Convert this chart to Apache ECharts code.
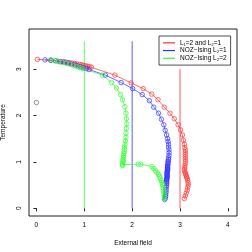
<!DOCTYPE html>
<html><head><meta charset="utf-8">
<script src="https://cdn.jsdelivr.net/npm/echarts@6/dist/echarts.min.js"></script>
<style>html,body{margin:0;padding:0;background:#fff}#c{width:252px;height:252px}</style>
</head><body><div id="c"></div>
<script>
const seriesNames = ['L\u2081=2 and L\u2082=1', 'NOZ\u2212Ising L\u2082=1', 'NOZ\u2212Ising L\u2082=2'];
const xTicks = [0, 1, 2, 3, 4];
const yTicks = [0, 1, 2, 3];
const red = [[0.02,3.21],[0.30,3.19],[0.45,3.17],[0.55,3.16],[0.62,3.15],[0.68,3.14],[0.74,3.13],[0.80,3.12],[0.85,3.11],[0.90,3.10],[0.95,3.09],[0.99,3.08],[1.03,3.07],[1.07,3.06],[1.11,3.05],[1.15,3.04],
 [1.64,2.87],[1.98,2.70],[2.23,2.58],[2.41,2.46],[2.54,2.34],[2.67,2.18],[2.79,2.05],[2.88,1.93],[2.96,1.80],[3.01,1.69],[3.05,1.58],[3.07,1.47],[3.09,1.38],[3.10,1.31],[3.11,1.26],[3.11,1.21],[3.11,1.16],[3.11,1.11],[3.11,1.06],[3.11,1.01],[3.11,0.96],[3.10,0.91],[3.10,0.87],[3.09,0.83],[3.10,0.79],[3.11,0.76],[3.12,0.73],[3.13,0.70],[3.14,0.67],[3.15,0.64],[3.16,0.60],[3.17,0.55],[3.17,0.50],[3.16,0.45],[3.15,0.39],[3.13,0.33],[3.11,0.27],[3.09,0.21]];
const blue = [[0.18,3.20],[0.30,3.19],[0.40,3.18],[0.50,3.16],[0.58,3.15],[0.66,3.13],[0.73,3.11],[0.80,3.09],[0.86,3.07],[0.92,3.05],[0.98,3.03],[1.04,3.01],[1.10,2.99],
 [1.44,2.87],[1.77,2.71],[2.01,2.58],[2.21,2.45],[2.36,2.32],[2.45,2.18],[2.55,2.05],[2.61,1.92],[2.66,1.80],[2.69,1.68],[2.72,1.58],[2.74,1.50],[2.75,1.44],[2.76,1.38],[2.76,1.32],[2.77,1.26],[2.77,1.20],[2.77,1.14],[2.76,1.09],[2.76,1.05],[2.75,1.02],[2.75,0.99],[2.75,0.96],[2.74,0.93],[2.74,0.91],[2.74,0.89],[2.74,0.87],[2.74,0.85],[2.74,0.83],[2.74,0.81],[2.73,0.79],[2.73,0.77],[2.73,0.75],[2.73,0.73],[2.73,0.71],[2.73,0.69],[2.73,0.67],[2.73,0.65],[2.72,0.63],[2.72,0.61],[2.72,0.59],[2.72,0.56],[2.72,0.53],[2.72,0.49],[2.71,0.45],[2.71,0.40],[2.71,0.35],[2.70,0.30],[2.70,0.26],[2.69,0.22],[2.68,0.19]];
const green = [[0.30,3.20],[0.38,3.18],[0.46,3.16],[0.54,3.14],[0.62,3.12],[0.70,3.10],[0.78,3.07],[0.85,3.05],[0.91,3.03],[0.97,3.01],
 [1.38,2.87],[1.57,2.71],[1.67,2.59],[1.76,2.45],[1.80,2.34],[1.85,2.19],[1.87,2.05],[1.88,1.93],[1.89,1.82],[1.88,1.72],[1.87,1.62],[1.87,1.53],[1.86,1.45],[1.85,1.38],[1.84,1.32],[1.84,1.27],[1.83,1.22],[1.83,1.18],[1.82,1.14],[1.82,1.10],[1.81,1.06],[1.81,1.03],[1.81,1.00],[1.80,0.97],[1.80,0.94],[1.80,0.92],
 [2.13,0.95],[2.18,0.95],[2.41,0.90],[2.45,0.86],[2.49,0.81],[2.52,0.77],[2.55,0.73],[2.57,0.69],[2.59,0.65],[2.61,0.60],[2.62,0.56],[2.63,0.52],[2.64,0.48],[2.65,0.43],[2.66,0.38],[2.66,0.33],[2.67,0.28],[2.67,0.24],[2.67,0.20]];
const blackPoint = [[0.0, 2.28]];
const vGreen = [[1, 0], [1, 3.6]];
const vBlue = [[2, 0], [2, 3.6]];
const vRed = [[3, 0], [3, 3.0]];
const colors = ['#ff3030', '#3030ff', '#30ff30'];

const font = 'Liberation Sans, Arial, sans-serif';
function curve(name, data, col) {
  return {
    name: name, type: 'line', data: data, symbol: 'circle', symbolSize: 4.5,
    showAllSymbol: true, animation: false, color: col,
    lineStyle: { color: col, width: 0.7 },
    itemStyle: { color: 'rgba(0,0,0,0)', borderColor: col, borderWidth: 0.7 },
    emphasis: { disabled: true }
  };
}
function vline(data, col) {
  return { type: 'line', data: data, symbol: 'none', lineStyle: { color: col, width: 0.8 }, animation: false, silent: true };
}
const chart = echarts.init(document.getElementById('c'), null, { renderer: 'canvas' });
chart.setOption({
  backgroundColor: '#fff',
  animation: false,
  grid: { left: 29, top: 29, width: 208, height: 187, show: true, borderColor: '#222', borderWidth: 1, backgroundColor: 'transparent', containLabel: false, outerBoundsMode: 'none' },
  legend: {
    left: 159, top: 36, orient: 'vertical', padding: [3, 4, 3, 4], itemGap: 0,
    itemWidth: 12, itemHeight: 1.2, borderColor: '#222', borderWidth: 0.8, borderRadius: 0,
    textStyle: { fontSize: 6.5, fontFamily: font, color: '#000', lineHeight: 7.7 },
    data: seriesNames.map((n, i) => ({ name: n, icon: 'rect', itemStyle: { color: colors[i], borderWidth: 0 } }))
  },
  xAxis: {
    type: 'value', min: -0.155, max: 4.19,
    name: 'External field', nameLocation: 'middle', nameGap: 24,
    nameTextStyle: { fontSize: 6.5, fontFamily: font, color: '#000' },
    splitLine: { show: false },
    axisLine: { show: false },
    axisTick: { show: true, length: 3, lineStyle: { color: '#222' }, customValues: xTicks },
    axisLabel: { fontSize: 6.5, fontFamily: font, color: '#000', margin: 6, customValues: xTicks }
  },
  yAxis: {
    type: 'value', min: -0.166, max: 3.864,
    name: 'Temperature', nameLocation: 'middle', nameGap: 22, nameRotate: 90,
    nameTextStyle: { fontSize: 6.5, fontFamily: font, color: '#000' },
    splitLine: { show: false },
    axisLine: { show: false },
    axisTick: { show: true, length: 3, lineStyle: { color: '#222' }, customValues: yTicks },
    axisLabel: { fontSize: 6.5, fontFamily: font, color: '#000', margin: 6, rotate: 90, customValues: yTicks }
  },
  series: [
    vline(vGreen, colors[2]), vline(vBlue, colors[1]), vline(vRed, colors[0]),
    curve(seriesNames[0], red, colors[0]),
    curve(seriesNames[1], blue, colors[1]),
    curve(seriesNames[2], green, colors[2]),
    { type: 'scatter', data: blackPoint, symbol: 'circle', symbolSize: 4.5, animation: false,
      itemStyle: { color: 'rgba(0,0,0,0)', borderColor: '#444', borderWidth: 0.7 } }
  ]
});
</script></body></html>
